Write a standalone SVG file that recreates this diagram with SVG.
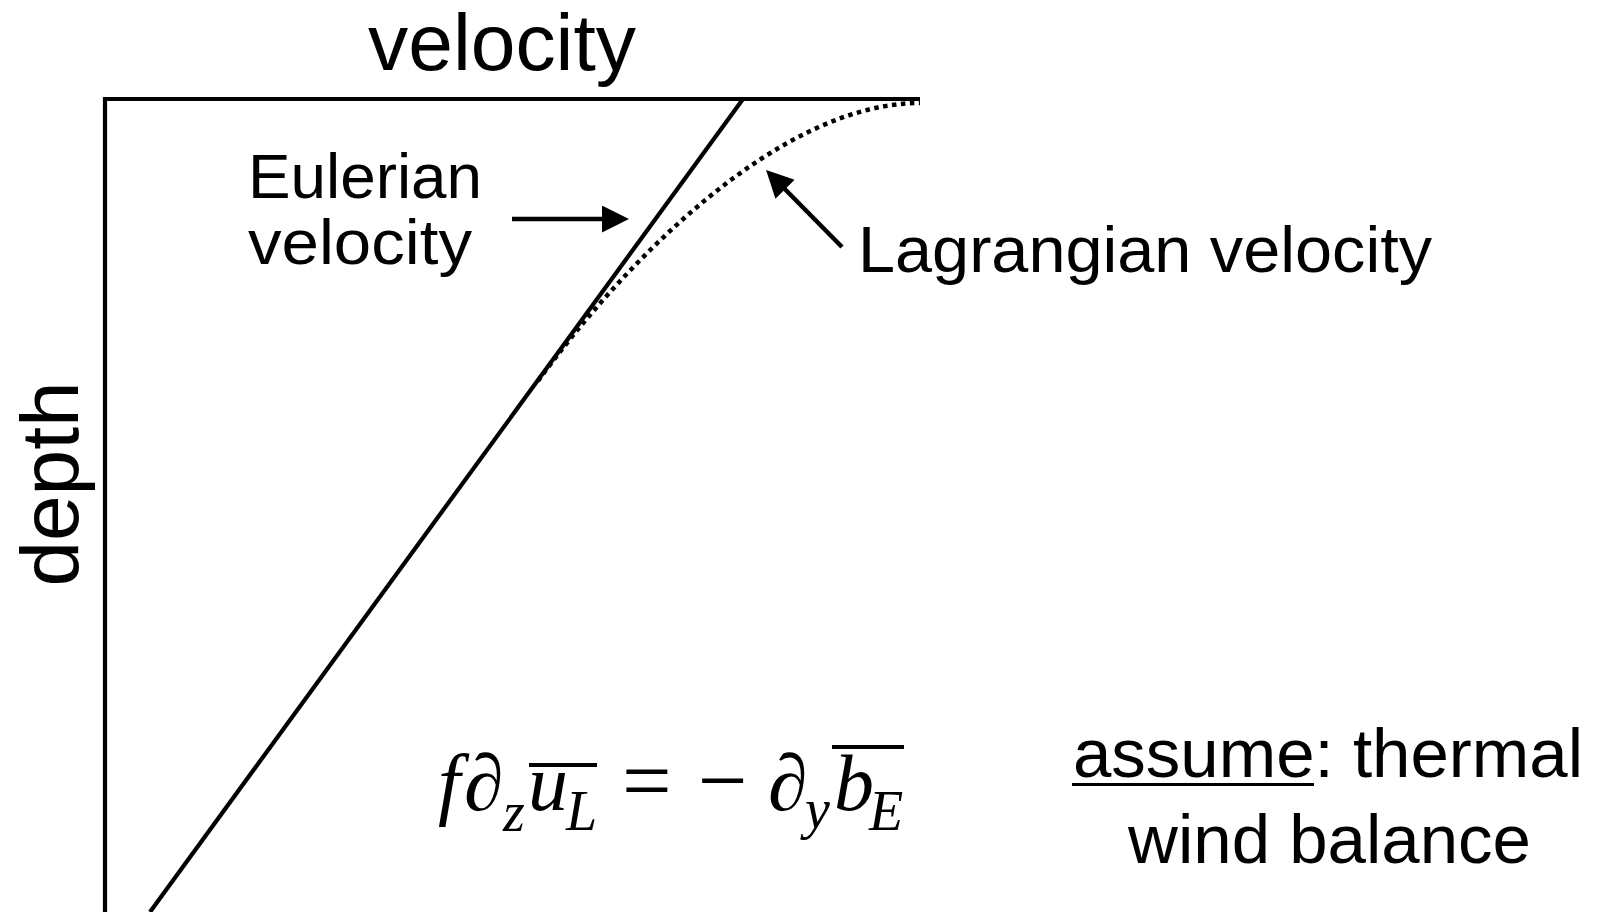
<svg xmlns="http://www.w3.org/2000/svg" width="1605" height="912" viewBox="0 0 1605 912">
<defs>
<style>
.sans{font-family:"Liberation Sans",Arial,Helvetica,sans-serif;fill:#000}
.serif{font-family:"Liberation Serif","Times New Roman",serif;fill:#000}
.it{font-style:italic}
.up{font-style:normal}
.sub{font-size:56px}
.ln{fill:none;stroke:#000;stroke-width:4.2}
.arr{fill:none;stroke:#000;stroke-width:4.5}
.dot{fill:none;stroke:#000;stroke-width:4.5;stroke-dasharray:4.5 4.5}
</style>
<marker id="head" markerUnits="userSpaceOnUse" markerWidth="27" markerHeight="27" viewBox="0 0 26 26" refX="1" refY="13" orient="auto">
<path d="M0,0 L26,13 L0,26 Z" fill="#000"/>
</marker>
</defs>
<rect width="1605" height="912" fill="#fff"/>
<g id="axes">
<path class="ln" d="M920,99 H105 V912"/>
</g>
<g id="eulerian-profile">
<line class="ln" x1="743" y1="99" x2="150" y2="912"/>
</g>
<g id="lagrangian-profile">
<path class="dot" d="M538,381 C626,260 780,103 920,103"/>
</g>
<g id="connectors">
<line class="arr" x1="512" y1="219" x2="603" y2="219" marker-end="url(#head)"/>
<line class="arr" x1="842" y1="247" x2="784.3" y2="188.5" marker-end="url(#head)"/>
</g>
<g id="title">
<text class="sans" x="368" y="70" font-size="80" textLength="268" lengthAdjust="spacingAndGlyphs">velocity</text>
</g>
<g id="depth-label">
<text class="sans" font-size="82" text-anchor="middle" transform="translate(78,484) rotate(-90)">depth</text>
</g>
<g id="eulerian-label">
<text class="sans" x="248" y="198" font-size="63" textLength="234" lengthAdjust="spacingAndGlyphs">Eulerian</text>
<text class="sans" x="248" y="264" font-size="63" textLength="224" lengthAdjust="spacingAndGlyphs">velocity</text>
</g>
<g id="lagrangian-label">
<text class="sans" x="858" y="272" font-size="64" textLength="574" lengthAdjust="spacingAndGlyphs">Lagrangian velocity</text>
</g>
<g id="equation">
<text class="serif it" font-size="80"><tspan x="438" y="810">f</tspan><tspan class="up" x="464" y="810">∂</tspan><tspan class="sub" x="503" y="831">z</tspan><tspan x="528" y="810">u</tspan><tspan class="sub" x="566" y="830">L</tspan><tspan class="up" x="622" y="810" font-size="88">=</tspan><tspan class="up" x="698" y="810" font-size="88">−</tspan><tspan class="up" x="768" y="810">∂</tspan><tspan class="sub" x="805" y="828">y</tspan><tspan x="834" y="810">b</tspan><tspan class="sub" x="869" y="830">E</tspan></text>
<line class="ln" x1="529" y1="765" x2="597" y2="765"/>
<line class="ln" x1="832" y1="747" x2="904" y2="747"/>
</g>
<g id="assumption">
<text class="sans" x="1073" y="777" font-size="69">assume: thermal</text>
<line x1="1072" y1="784.5" x2="1314" y2="784.5" stroke="#000" stroke-width="3"/>
<text class="sans" x="1329.5" y="863" font-size="69" text-anchor="middle">wind balance</text>
</g>
</svg>
